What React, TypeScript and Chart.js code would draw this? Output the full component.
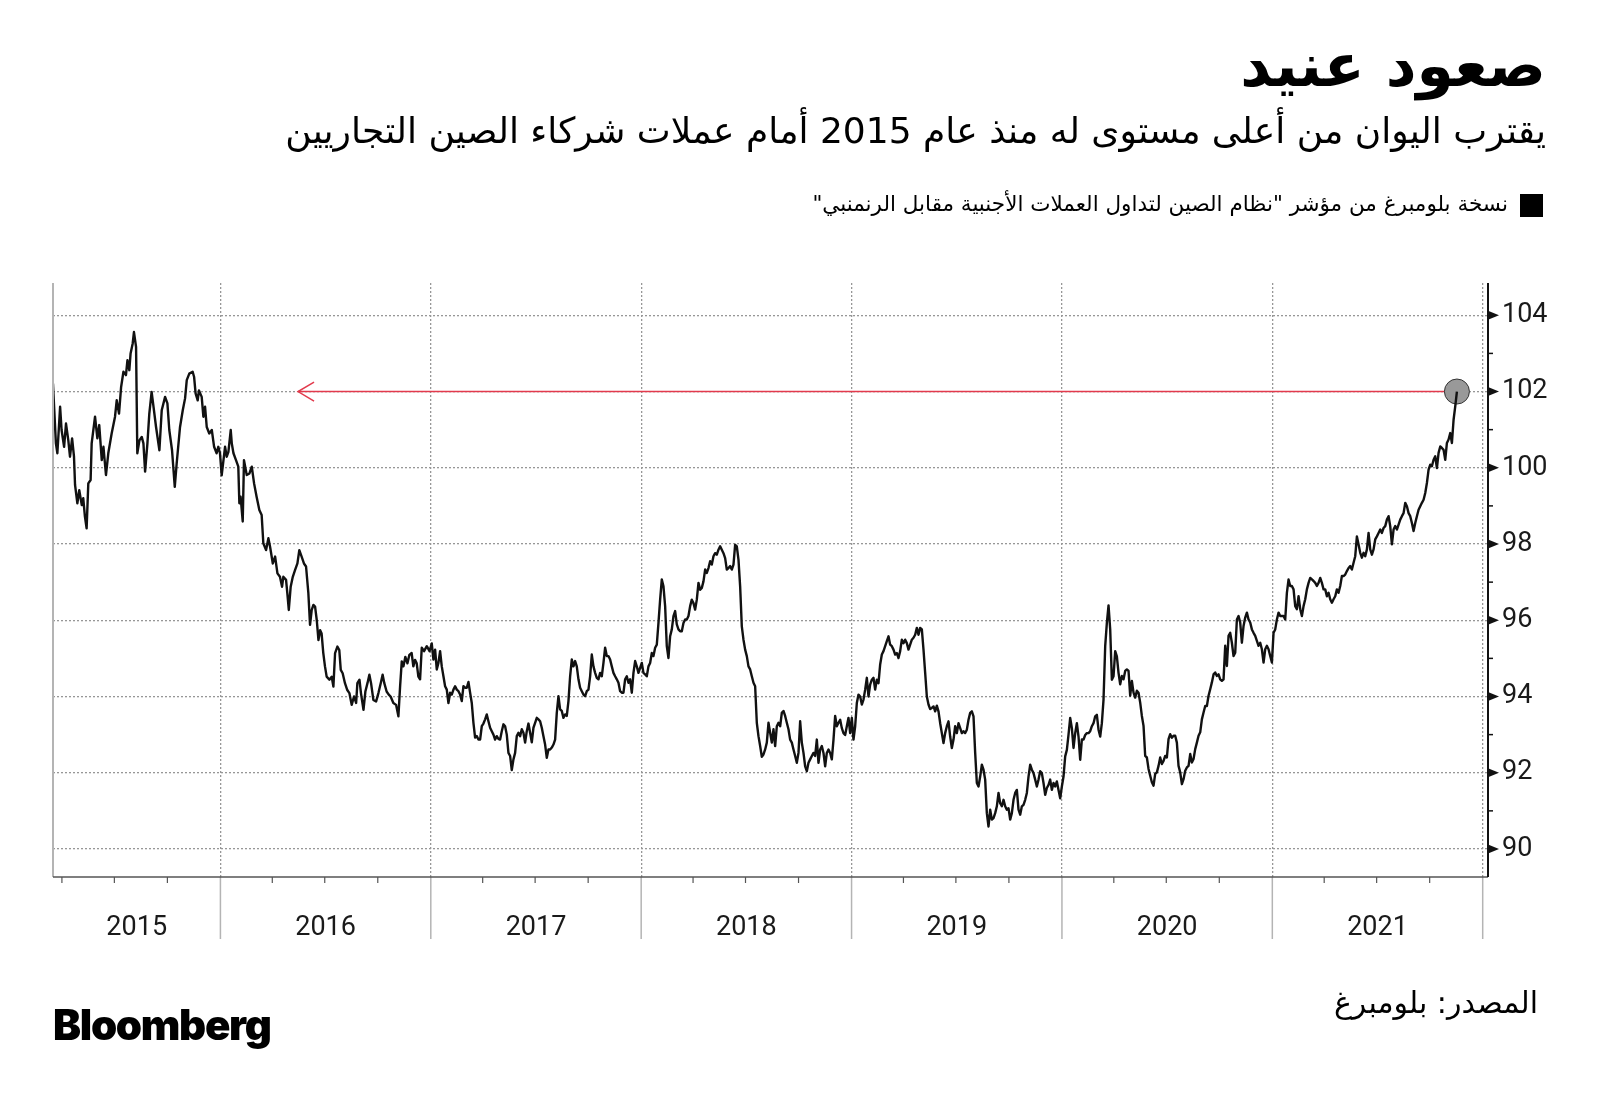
import React, { useEffect, useRef } from 'react';
import { Chart, registerables } from 'chart.js';

Chart.register(...registerables);

// ---------- text ----------
const TITLE = 'صعود عنيد';
const SUBTITLE = 'يقترب اليوان من أعلى مستوى له منذ عام 2015 أمام عملات شركاء الصين التجاريين';
const LEGEND_LABEL = 'نسخة بلومبرغ من مؤشر "نظام الصين لتداول العملات الأجنبية مقابل الرنمنبي"';
const SOURCE = 'المصدر: بلومبرغ';
const BRAND = 'Bloomberg';

// ---------- axes ----------
const yearLabels = ['2015', '2016', '2017', '2018', '2019', '2020', '2021'];
const yearBoundaries = [2016, 2017, 2018, 2019, 2020, 2021, 2022];
const quarterFractions = [90 / 365, 181 / 365, 273 / 365];
const yTickValues = [90, 91, 92, 93, 94, 95, 96, 97, 98, 99, 100, 101, 102, 103, 104];
const X_MIN = 2015.2042;
const X_MAX = 2022.0252;
const Y_MIN = 89.265;
const Y_MAX = 104.847;

// ---------- data: [decimal year, index value] ----------
const seg2015: number[][] = [
  [2015.204, 102.21], [2015.218, 100.64], [2015.225, 100.38], [2015.238, 101.6], [2015.245, 100.99], [2015.257, 100.55],
  [2015.266, 101.16], [2015.277, 100.72], [2015.285, 100.29], [2015.295, 100.77], [2015.304, 100.29], [2015.309, 99.55],
  [2015.32, 99.07], [2015.329, 99.41], [2015.341, 99.02], [2015.348, 99.2], [2015.356, 98.72], [2015.364, 98.41],
  [2015.372, 99.59], [2015.383, 99.68], [2015.388, 100.64], [2015.404, 101.34], [2015.415, 100.77], [2015.424, 101.12],
  [2015.436, 100.2], [2015.444, 100.55], [2015.456, 99.81], [2015.467, 100.38], [2015.483, 100.9], [2015.499, 101.34],
  [2015.507, 101.77], [2015.518, 101.42], [2015.528, 102.12], [2015.539, 102.52], [2015.551, 102.43], [2015.558, 102.82],
  [2015.567, 102.56], [2015.573, 103.0], [2015.583, 103.26], [2015.589, 103.56], [2015.599, 103.17], [2015.605, 100.38],
  [2015.615, 100.72], [2015.626, 100.81], [2015.634, 100.64], [2015.642, 99.9], [2015.653, 100.64], [2015.662, 101.42],
  [2015.673, 101.99], [2015.684, 101.51], [2015.694, 101.07], [2015.71, 100.46], [2015.721, 101.51], [2015.737, 101.86],
  [2015.748, 101.69], [2015.757, 100.99], [2015.77, 100.46], [2015.783, 99.5], [2015.792, 100.11], [2015.808, 101.07],
  [2015.821, 101.51], [2015.832, 101.82], [2015.84, 102.3], [2015.852, 102.47], [2015.868, 102.52], [2015.875, 102.38],
  [2015.882, 101.95], [2015.892, 101.77], [2015.898, 102.03], [2015.911, 101.86], [2015.919, 101.34], [2015.927, 101.6],
  [2015.935, 101.07], [2015.947, 100.9], [2015.959, 100.99], [2015.97, 100.55], [2015.982, 100.38], [2015.99, 100.55],
  [2015.998, 100.38],
];

const seg2016: number[][] = [
  [2016.006, 99.8], [2016.022, 100.55], [2016.03, 100.29], [2016.038, 100.42], [2016.049, 100.99], [2016.054, 100.64],
  [2016.062, 100.38], [2016.074, 100.2], [2016.085, 100.03], [2016.09, 99.07], [2016.096, 99.24], [2016.106, 98.59],
  [2016.112, 100.2], [2016.125, 99.81], [2016.138, 99.85], [2016.149, 100.03], [2016.16, 99.59], [2016.172, 99.24],
  [2016.185, 98.89], [2016.196, 98.76], [2016.204, 98.02], [2016.217, 97.84], [2016.228, 98.15], [2016.236, 97.93],
  [2016.249, 97.49], [2016.26, 97.67], [2016.271, 97.23], [2016.283, 97.14], [2016.293, 96.88], [2016.299, 97.14],
  [2016.312, 97.06], [2016.318, 96.71], [2016.325, 96.27], [2016.334, 96.88], [2016.344, 97.14], [2016.355, 97.32],
  [2016.366, 97.49], [2016.375, 97.84], [2016.386, 97.67], [2016.397, 97.49], [2016.407, 97.41], [2016.418, 96.71],
  [2016.426, 95.88], [2016.434, 96.27], [2016.442, 96.4], [2016.45, 96.36], [2016.458, 96.0], [2016.466, 95.48],
  [2016.474, 95.74], [2016.481, 95.65], [2016.489, 95.14], [2016.497, 94.79], [2016.505, 94.52], [2016.518, 94.44],
  [2016.529, 94.52], [2016.537, 94.26], [2016.545, 95.14], [2016.556, 95.31], [2016.565, 95.22], [2016.572, 94.7],
  [2016.581, 94.61], [2016.592, 94.35], [2016.603, 94.17], [2016.613, 94.09], [2016.624, 93.78], [2016.635, 94.0],
  [2016.645, 93.83], [2016.651, 94.35], [2016.661, 94.44], [2016.668, 94.09], [2016.68, 93.65], [2016.689, 94.13],
  [2016.699, 94.35], [2016.708, 94.57], [2016.716, 94.35], [2016.727, 93.91], [2016.74, 93.87], [2016.751, 94.09],
  [2016.762, 94.35], [2016.771, 94.57], [2016.779, 94.35], [2016.79, 94.13], [2016.8, 94.05], [2016.809, 94.0],
  [2016.822, 93.83], [2016.835, 93.78], [2016.846, 93.48], [2016.854, 94.26], [2016.862, 94.92], [2016.87, 94.79],
  [2016.879, 95.04], [2016.889, 94.87], [2016.898, 95.09], [2016.909, 95.14], [2016.917, 94.79], [2016.925, 94.96],
  [2016.933, 94.87], [2016.941, 94.52], [2016.949, 94.45], [2016.957, 95.28], [2016.968, 95.19], [2016.981, 95.32],
  [2016.994, 95.19],
];

// From 2017 on: values sampled every SAMPLE_STEP years, starting at SAMPLE_START
const SAMPLE_START = 2017.0046;
const SAMPLE_STEP = 0.0079233;

const vals2017 = [
  95.39, 94.97, 95.23, 94.71, 94.88, 95.19, 94.79, 94.53, 94.27, 94.18,
  93.83, 94.1, 94.05, 94.18, 94.27, 94.18, 94.14, 94.05, 93.88, 94.27,
  94.23, 94.23, 94.38, 94.1, 93.83, 93.31, 92.92, 92.96, 92.87, 92.87,
  93.22, 93.29, 93.4, 93.53, 93.35, 93.18, 93.09, 93.0, 92.87, 92.96,
  92.89, 92.87, 93.09, 93.27, 93.22, 93.0, 92.52, 92.44, 92.07, 92.35,
  92.52, 92.96, 93.05, 92.96, 93.14, 93.05, 92.79, 93.09, 93.29, 93.05,
  92.8, 93.18, 93.31, 93.44, 93.4, 93.35, 93.18, 92.96, 92.74, 92.39,
  92.61, 92.61, 92.66, 92.74, 92.87, 93.57, 94.01, 93.66, 93.62, 93.44,
  93.53, 93.49, 93.88, 94.53, 94.97, 94.79, 94.93, 94.79, 94.45, 94.23,
  94.14, 94.05, 94.01, 94.14, 94.18, 94.53, 95.1, 94.79, 94.62, 94.49,
  94.45, 94.62, 94.53, 94.88, 95.28, 95.06, 95.06, 94.97, 94.79, 94.62,
  94.53, 94.45, 94.36, 94.14, 94.1, 94.1, 94.45, 94.53, 94.36, 94.45,
  94.1, 94.62, 94.93, 94.79, 94.62,
];

const vals2018 = [
  94.75, 94.88, 94.62, 94.58, 94.53, 94.79, 94.88, 95.14, 95.06, 95.28,
  95.36, 95.93, 96.54, 97.07, 96.89, 96.37, 95.32, 95.01, 95.58, 95.76,
  96.11, 96.24, 95.89, 95.76, 95.71, 95.71, 95.93, 96.02, 96.02, 96.11,
  96.37, 96.54, 96.45, 96.28, 96.54, 96.98, 96.8, 96.85, 97.02, 97.33,
  97.24, 97.37, 97.55, 97.46, 97.68, 97.76, 97.72, 97.85, 97.94, 97.85,
  97.76, 97.63, 97.33, 97.37, 97.42, 97.33, 97.46, 97.98, 97.94, 97.59,
  96.89, 95.84, 95.49, 95.23, 95.06, 94.79, 94.71, 94.53, 94.36, 94.27,
  93.31, 92.96, 92.7, 92.42, 92.48, 92.61, 92.79, 93.31, 93.05, 92.79,
  93.14, 92.7, 93.22, 93.31, 93.22, 93.57, 93.62, 93.49, 93.31, 93.14,
  92.87, 92.79, 92.61, 92.44, 92.26, 92.52, 93.35, 92.79, 92.52, 92.17,
  92.04, 92.26, 92.35, 92.44, 92.52, 92.44, 92.87, 92.26, 92.61, 92.7,
  92.52, 92.17, 92.52, 92.61, 92.52, 92.35, 92.87, 93.49, 93.22, 93.31,
];

const vals2019 = [
  93.39, 93.17, 93.04, 92.99, 93.22, 93.44, 93.04, 93.44, 92.87, 93.22,
  93.83, 94.05, 94.0, 93.79, 93.92, 94.18, 94.49, 94.0, 94.31, 94.44,
  94.49, 94.18, 94.44, 94.35, 94.84, 95.1, 95.19, 95.32, 95.45, 95.58,
  95.36, 95.32, 95.23, 95.1, 95.14, 95.01, 95.19, 95.49, 95.4, 95.49,
  95.4, 95.23, 95.36, 95.49, 95.54, 95.62, 95.8, 95.62, 95.8, 95.76,
  95.23, 94.62, 94.0, 93.79, 93.67, 93.7, 93.74, 93.61, 93.76, 93.61,
  93.3, 93.04, 92.78, 93.04, 93.22, 93.35, 92.95, 92.65, 92.87, 93.22,
  93.04, 93.3, 93.17, 93.04, 93.09, 93.04, 93.13, 93.39, 93.57, 93.61,
  93.48, 92.52, 91.73, 91.64, 91.9, 92.21, 92.08, 91.82, 90.94, 90.59,
  91.03, 90.77, 90.81, 90.94, 91.12, 91.47, 91.2, 91.12, 91.29, 91.12,
  91.03, 91.07, 90.77, 90.94, 91.29, 91.47, 91.55, 91.03, 90.9, 91.12,
  91.16, 91.29, 91.47, 91.9, 92.21, 92.08, 91.99, 91.82, 91.64, 91.82,
  92.04, 91.99, 91.73, 91.42, 91.6, 91.68, 91.82, 91.55, 91.73, 91.64,
  91.77, 91.55, 91.33,
];

const vals2020 = [
  91.64, 91.9, 92.43, 92.6, 93.0, 93.44, 93.17, 92.65, 93.04, 93.3,
  92.95, 92.34, 92.87, 92.87, 92.99, 93.04, 93.04, 93.09, 93.22, 93.3,
  93.48, 93.52, 93.13, 92.95, 93.3, 93.92, 95.32, 95.93, 96.39, 95.76,
  94.44, 94.53, 95.19, 95.05, 94.62,
  94.32, 94.54, 94.45, 94.67, 94.71, 94.67, 94.02, 94.41, 94.1, 93.97,
  94.15, 94.1, 93.84, 93.49, 93.23, 92.44, 92.4, 92.1, 91.92, 91.75,
  91.66, 91.97, 92.01, 92.18, 92.4, 92.23, 92.31, 92.44, 92.4, 92.88,
  93.01, 92.92, 92.97, 92.97, 92.79, 92.18, 92.01, 91.7, 91.83, 92.05,
  92.14, 92.18, 92.49, 92.27, 92.36, 92.62, 92.79, 92.97, 93.06, 93.4,
  93.58, 93.75, 93.75, 94.02, 94.19, 94.37, 94.58, 94.63, 94.54, 94.58,
  94.45, 94.41, 94.45, 95.33, 94.8, 95.59, 95.67, 95.41, 95.06, 95.15,
  96.02, 96.11, 95.94, 95.41, 95.85, 96.07, 96.2, 96.02, 95.94, 95.76,
  95.67, 95.59, 95.46, 95.33, 95.41, 95.24, 94.89, 95.24, 95.33, 95.24,
  95.06,
];

const vals2021 = [
  94.89, 95.67, 95.76, 96.02, 96.2, 96.11, 96.11, 96.11, 96.02, 96.72,
  97.07, 96.9, 96.9, 96.81, 96.37, 96.29, 96.63, 96.29, 96.11, 96.37,
  96.55, 96.81, 96.98, 97.11, 97.07, 97.03, 96.98, 96.9, 96.98, 97.11,
  96.98, 96.81, 96.81, 96.63, 96.72, 96.55, 96.46, 96.55, 96.63, 96.81,
  96.72, 96.9, 97.16, 97.16, 97.2, 97.29, 97.37, 97.42, 97.33, 97.51,
  97.68, 98.2, 97.99, 97.77, 97.64, 97.77, 97.68, 97.86, 98.29, 97.86,
  97.72, 97.86, 98.12, 98.2, 98.29, 98.38, 98.29, 98.42, 98.47, 98.64,
  98.73, 98.47, 97.99, 98.38, 98.47, 98.38, 98.51, 98.64, 98.73, 98.81,
  99.08, 98.99, 98.81, 98.73, 98.55, 98.34, 98.55, 98.73, 98.9, 98.99,
  99.08, 99.16, 99.34, 99.6, 99.95, 100.08, 100.04, 100.21, 100.3, 99.99,
  100.39, 100.56, 100.52, 100.47, 100.21, 100.65, 100.74, 100.91, 100.65, 101.26,
  101.61, 102.0,
];

// reference line: level reached again, drawn back to the date it was last seen
const HIGH_LEVEL = 102;
const HIGH_ARROW_FROM = 2016.369;

const RED = '#e23a4c';
const GRID = '#979797';

type P = { x: number; y: number };

function buildSeries(): P[] {
  const pts: P[] = [];
  for (const [x, y] of seg2015) pts.push({ x, y });
  for (const [x, y] of seg2016) pts.push({ x, y });
  const sampled = [...vals2017, ...vals2018, ...vals2019, ...vals2020, ...vals2021];
  sampled.forEach((y, i) => pts.push({ x: SAMPLE_START + i * SAMPLE_STEP, y }));
  return pts;
}

const labelPositions = yearLabels.map((_, i) =>
  i === 0 ? (X_MIN + yearBoundaries[0]) / 2 : yearBoundaries[i - 1] + 0.5
);

const framePlugin = {
  id: 'frame',
  afterDraw(chart: any) {
    const { ctx, chartArea: a, scales } = chart;
    const xs = scales.x;
    const ys = scales.y;
    const seg = (x1: number, y1: number, x2: number, y2: number) => {
      ctx.beginPath();
      ctx.moveTo(x1, y1);
      ctx.lineTo(x2, y2);
      ctx.stroke();
    };
    ctx.save();
    ctx.setLineDash([]);
    // left edge
    ctx.strokeStyle = '#b4b4b4';
    ctx.lineWidth = 2;
    seg(a.left, a.top, a.left, a.bottom);
    // year dividers below the axis
    ctx.strokeStyle = '#b4b4b4';
    ctx.lineWidth = 1.5;
    for (const b of yearBoundaries) {
      const px = xs.getPixelForValue(b);
      seg(px, a.bottom, px, a.bottom + 62);
    }
    // bottom axis line
    ctx.strokeStyle = '#555';
    ctx.lineWidth = 1.5;
    seg(a.left, a.bottom, a.right, a.bottom);
    // quarter ticks
    ctx.lineWidth = 1.2;
    for (let yr = 2015; yr <= 2021; yr++) {
      for (const q of quarterFractions) {
        const v = yr + q;
        if (v < X_MIN || v > X_MAX) continue;
        const px = xs.getPixelForValue(v);
        seg(px, a.bottom, px, a.bottom + 6);
      }
    }
    // right axis
    ctx.strokeStyle = '#111';
    ctx.fillStyle = '#111';
    ctx.lineWidth = 2;
    seg(a.right, a.top, a.right, a.bottom);
    ctx.lineWidth = 1.5;
    for (const v of yTickValues) {
      const py = ys.getPixelForValue(v);
      if (v % 2 === 0) {
        ctx.beginPath();
        ctx.moveTo(a.right, py - 4.5);
        ctx.lineTo(a.right + 11, py);
        ctx.lineTo(a.right, py + 4.5);
        ctx.closePath();
        ctx.fill();
      } else {
        seg(a.right, py, a.right + 5, py);
      }
    }
    ctx.restore();
  },
};

const arrowPlugin = {
  id: 'arrowHead',
  afterDatasetsDraw(chart: any) {
    const meta = chart.getDatasetMeta(0);
    const p = meta.data[0];
    if (!p) return;
    const { ctx } = chart;
    ctx.save();
    ctx.strokeStyle = RED;
    ctx.lineWidth = 1.5;
    ctx.beginPath();
    ctx.moveTo(p.x + 16, p.y - 9.5);
    ctx.lineTo(p.x, p.y);
    ctx.lineTo(p.x + 16, p.y + 9.5);
    ctx.stroke();
    ctx.restore();
  },
};

export default function App() {
  const ref = useRef<HTMLCanvasElement | null>(null);

  useEffect(() => {
    if (!ref.current) return;
    const series = buildSeries();
    const last = series[series.length - 1];
    const tickFont = { family: 'Roboto, "Open Sans", sans-serif', size: 27 };

    const chart = new Chart(ref.current, {
      type: 'line',
      data: {
        datasets: [
          {
            label: 'high',
            data: [
              { x: HIGH_ARROW_FROM, y: HIGH_LEVEL },
              { x: last.x, y: HIGH_LEVEL },
            ],
            borderColor: RED,
            borderWidth: 1.5,
            pointRadius: 0,
            order: 3,
          },
          {
            label: 'latest',
            data: [{ x: last.x, y: last.y }],
            showLine: false,
            pointRadius: 12.5,
            pointBackgroundColor: '#999999',
            pointBorderColor: '#333',
            pointBorderWidth: 1,
            order: 2,
          },
          {
            label: LEGEND_LABEL,
            data: series,
            borderColor: '#111',
            borderWidth: 2.4,
            pointRadius: 0,
            tension: 0,
            borderJoinStyle: 'round',
            order: 1,
          },
        ],
      },
      options: {
        animation: false,
        responsive: false,
        maintainAspectRatio: false,
        layout: { padding: { left: 53, top: 283, right: 0, bottom: 0 } },
        plugins: { legend: { display: false }, tooltip: { enabled: false } },
        scales: {
          x: {
            type: 'linear',
            min: X_MIN,
            max: X_MAX,
            afterFit: (s: any) => {
              s.height = 231;
            },
            afterBuildTicks: (s: any) => {
              s.ticks = [...yearBoundaries, ...labelPositions]
                .sort((p, q) => p - q)
                .map((value) => ({ value }));
            },
            grid: {
              color: (c: any) =>
                yearBoundaries.includes(c.tick?.value) ? GRID : 'rgba(0,0,0,0)',
              lineWidth: 1.3,
              drawTicks: false,
            },
            border: { display: false, dash: [2, 2] },
            ticks: {
              autoSkip: false,
              maxRotation: 0,
              padding: 35,
              color: '#1a1a1a',
              font: tickFont,
              callback: (value: any) => {
                const i = labelPositions.findIndex((p) => Math.abs(p - Number(value)) < 1e-6);
                return i >= 0 ? yearLabels[i] : '';
              },
            },
          },
          y: {
            type: 'linear',
            position: 'right',
            min: Y_MIN,
            max: Y_MAX,
            afterFit: (s: any) => {
              s.width = 112;
            },
            afterBuildTicks: (s: any) => {
              s.ticks = yTickValues.map((value) => ({ value }));
            },
            grid: {
              color: (c: any) => (c.tick && c.tick.value % 2 === 0 ? GRID : 'rgba(0,0,0,0)'),
              lineWidth: 1.3,
              drawTicks: false,
            },
            border: { display: false, dash: [2, 2] },
            ticks: {
              autoSkip: false,
              padding: 14,
              color: '#1a1a1a',
              font: tickFont,
              callback: (value: any) => (Number(value) % 2 === 0 ? String(value) : ''),
            },
          },
        },
      },
      plugins: [framePlugin, arrowPlugin],
    } as any);

    return () => chart.destroy();
  }, []);

  const arabic = '"DejaVu Sans", sans-serif';

  return (
    <div
      style={{
        position: 'fixed',
        left: 0,
        top: 0,
        width: 1600,
        height: 1108,
        background: '#fff',
        overflow: 'hidden',
      }}
    >
      <canvas
        ref={ref}
        width={1600}
        height={1108}
        style={{ position: 'absolute', left: 0, top: 0, width: 1600, height: 1108 }}
      />
      <div
        style={{
          position: 'absolute',
          right: 54,
          top: 29,
          fontFamily: arabic,
          fontWeight: 700,
          fontSize: 60,
          lineHeight: 1.2,
          direction: 'rtl',
          whiteSpace: 'nowrap',
          color: '#000',
        }}
      >
        {TITLE}
      </div>
      <div
        style={{
          position: 'absolute',
          right: 54,
          top: 109,
          fontFamily: arabic,
          fontSize: 36,
          lineHeight: 1.2,
          direction: 'rtl',
          whiteSpace: 'nowrap',
          color: '#000',
        }}
      >
        {SUBTITLE}
      </div>
      <div
        style={{
          position: 'absolute',
          left: 1520,
          top: 194,
          width: 23,
          height: 23,
          background: '#000',
        }}
      />
      <div
        style={{
          position: 'absolute',
          right: 92,
          top: 191,
          fontFamily: arabic,
          fontSize: 21.5,
          lineHeight: 1.2,
          direction: 'rtl',
          whiteSpace: 'nowrap',
          color: '#000',
        }}
      >
        {LEGEND_LABEL}
      </div>
      <div
        style={{
          position: 'absolute',
          right: 62,
          top: 985,
          fontFamily: arabic,
          fontSize: 30,
          lineHeight: 1.2,
          direction: 'rtl',
          whiteSpace: 'nowrap',
          color: '#000',
        }}
      >
        {SOURCE}
      </div>
      <div
        style={{
          position: 'absolute',
          left: 53,
          top: 1004,
          fontFamily: 'Inter, "Liberation Sans", sans-serif',
          fontWeight: 900,
          fontSize: 42,
          lineHeight: 1,
          letterSpacing: -1.3,
          color: '#000',
        }}
      >
        {BRAND}
      </div>
    </div>
  );
}
